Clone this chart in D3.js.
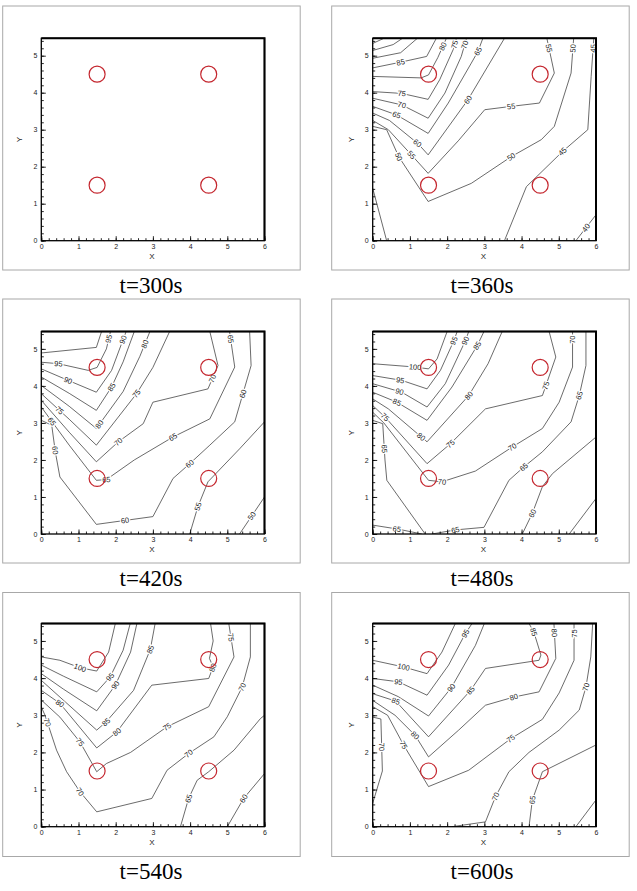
<!DOCTYPE html>
<html><head><meta charset="utf-8">
<script src="https://cdn.jsdelivr.net/npm/d3@7"></script>
<style>
body{margin:0;background:#fff}svg{display:block}
.cap{font-family:"Liberation Serif","DejaVu Serif","Times New Roman",Times,serif;font-size:23px;fill:#000}
</style>
</head><body><svg id="c" width="637" height="891"></svg>
<script>
// ---------- data ----------
const times = ["t=300s","t=360s","t=420s","t=480s","t=540s","t=600s"];
const heaters = [[1.5,1.5],[1.5,4.5],[4.5,1.5],[4.5,4.5]];
const xTicks = [0,1,2,3,4,5,6];
const yTicks = [0,1,2,3,4,5];
const xDomain = [0,6];
const yDomain = [0,5.47];

const contours300 = [];
const contours360 = [
 {v:100, pts:[[0,5.33],[0.3,5.47]], lab:[]},
 {v:95, pts:[[0,5.14],[0.55,5.3],[0.8,5.47]], lab:[]},
 {v:90, pts:[[0,4.93],[0.75,5.08],[1.2,5.47]], lab:[]},
 {v:85, pts:[[0,4.67],[0.73,4.82],[1.45,4.98],[1.71,5.47]], lab:[[0.75,4.82]]},
 {v:80, pts:[[0,4.44],[1.3,4.4],[1.5,4.48],[1.75,4.95],[1.98,5.47]], lab:[[1.88,5.25]]},
 {v:75, pts:[[0,4.03],[0.78,3.98],[1.49,3.82],[1.8,4.35],[2.16,5.16],[2.25,5.47]], lab:[[0.78,3.98],[2.2,5.3]]},
 {v:70, pts:[[0,3.85],[0.78,3.67],[1.49,3.31],[1.94,3.99],[2.38,4.98],[2.52,5.47]], lab:[[0.78,3.67],[2.46,5.3]]},
 {v:65, pts:[[0,3.63],[0.64,3.4],[1.49,2.9],[2.03,3.72],[2.65,4.8],[2.83,5.12],[2.96,5.47]], lab:[[0.64,3.4],[2.83,5.12]]},
 {v:60, pts:[[0,3.45],[0.45,3.25],[1.22,2.62],[1.49,2.32],[2.56,3.81],[3.54,5.47]], lab:[[1.2,2.64],[2.56,3.81]]},
 {v:55, pts:[[0,3.25],[0.42,3.0],[1.04,2.32],[1.49,1.82],[2.3,2.7],[3.01,3.54],[3.72,3.63],[4.48,3.72],[4.88,4.53],[4.68,5.47]], lab:[[1.04,2.32],[3.72,3.63],[4.74,5.2]]},
 {v:50, pts:[[0,3.09],[0.375,3.0],[0.7,2.27],[1.49,1.06],[2.65,1.55],[3.72,2.27],[4.53,2.73],[4.88,3.09],[5.33,4.53],[5.4,5.47]], lab:[[0.7,2.27],[3.72,2.27],[5.36,5.2]]},
 {v:45, pts:[[3.54,0],[4.13,1.46],[5.1,2.41],[5.78,3.0],[5.87,4.44],[5.94,5.47]], lab:[[5.1,2.41],[5.9,5.2]]},
 {v:40, pts:[[5.46,0],[6,0.7]], lab:[[5.73,0.35]]},
 {v:45, pts:[[0,1.42],[0.375,0]], lab:[]}
];
const contours420 = [
 {v:100, pts:[[0,4.89],[1.48,5.04],[1.62,5.47]], lab:[]},
 {v:95, pts:[[0,4.64],[0.46,4.6],[1.26,4.42],[1.5,4.5],[1.75,5.0],[1.86,5.47]], lab:[[0.46,4.6],[1.82,5.27]]},
 {v:90, pts:[[0,4.46],[0.72,4.15],[1.48,3.83],[1.89,4.42],[2.28,5.47]], lab:[[0.72,4.15],[2.2,5.25]]},
 {v:85, pts:[[0,4.24],[0.75,3.8],[1.48,3.34],[1.89,3.97],[2.2,4.65],[2.5,5.47]], lab:[[1.89,3.97]]},
 {v:80, pts:[[0,4.01],[0.75,3.45],[1.48,2.85],[2.2,3.85],[2.65,4.8],[2.92,5.47]], lab:[[1.58,2.95],[2.78,5.13]]},
 {v:75, pts:[[0,3.79],[0.75,3.1],[1.48,2.4],[2.56,3.79],[3.0,4.5],[3.45,5.47]], lab:[[0.5,3.35],[2.56,3.79]]},
 {v:70, pts:[[0,3.61],[0.75,2.75],[1.48,1.95],[2.07,2.49],[2.74,2.98],[3.0,3.56],[4.48,3.92],[4.6,4.2],[4.75,4.55],[4.53,5.47]], lab:[[2.07,2.49],[4.6,4.2]]},
 {v:65, pts:[[0,3.43],[0.75,2.4],[1.48,1.45],[1.75,1.47],[2.5,2.0],[3.54,2.62],[4.53,3.11],[5.2,4.51],[5.06,5.47]], lab:[[0.3,3.05],[1.75,1.47],[3.54,2.62],[5.12,5.27]]},
 {v:60, pts:[[0,3.07],[0.28,2.94],[0.38,2.2],[0.5,1.54],[1.48,0.26],[3.0,0.47],[3.54,1.5],[3.99,1.9],[4.53,2.4],[5.2,3.03],[5.42,3.79],[5.64,4.55],[5.6,5.47]], lab:[[0.38,2.26],[2.25,0.35],[3.99,1.9],[5.42,3.79]]},
 {v:55, pts:[[3.99,0],[4.21,0.74],[4.48,1.41],[5.33,2.3],[6,3.03]], lab:[[4.21,0.74]]},
 {v:50, pts:[[5.33,0],[6,1.0]], lab:[[5.64,0.5]]}
];
const contours480 = [
 {v:100, pts:[[0,4.6],[1.14,4.51],[1.5,4.46],[1.73,4.73],[2.0,5.47]], lab:[[1.14,4.51]]},
 {v:95, pts:[[0,4.28],[0.78,4.15],[1.46,3.92],[1.82,4.42],[2.18,5.22],[2.27,5.47]], lab:[[0.74,4.15],[2.18,5.22]]},
 {v:90, pts:[[0,4.06],[0.78,3.83],[1.46,3.43],[1.95,4.06],[2.49,5.22],[2.58,5.47]], lab:[[0.72,3.85],[2.49,5.22]]},
 {v:85, pts:[[0,3.83],[0.65,3.56],[1.46,3.07],[2.13,3.97],[2.81,5.09],[2.99,5.47]], lab:[[0.65,3.56],[2.81,5.09]]},
 {v:80, pts:[[0,3.65],[0.42,3.38],[1.46,2.49],[2.58,3.74],[3.1,4.6],[3.48,5.47]], lab:[[1.32,2.65],[2.58,3.74]]},
 {v:75, pts:[[0,3.47],[0.33,3.16],[1.46,1.9],[2.09,2.44],[3.03,3.38],[4.56,3.74],[4.92,4.78],[4.74,5.47]], lab:[[0.33,3.16],[2.09,2.44],[4.65,4.01]]},
 {v:70, pts:[[0,3.29],[0.3,3.0],[1.5,1.45],[1.86,1.41],[2.76,1.7],[3.75,2.35],[4.56,2.85],[5.01,3.56],[5.37,4.51],[5.37,5.47]], lab:[[1.86,1.41],[3.75,2.35],[5.37,5.25]]},
 {v:65, pts:[[0,3.07],[0.27,2.98],[0.33,2.0],[0.38,1.45],[1.41,0]], lab:[[0.31,2.3]]},
 {v:65, pts:[[0,0.24],[0.69,0.13],[1.32,0]], lab:[[0.65,0.14]]},
 {v:65, pts:[[1.59,0],[2.22,0.11],[2.99,0.18],[3.66,1.45],[4.06,1.81],[4.56,2.22],[5.33,3.03],[5.55,3.74],[5.73,4.55],[5.73,5.47]], lab:[[2.22,0.11],[4.06,1.81],[5.55,3.74]]},
 {v:60, pts:[[4.02,0],[4.29,0.56],[4.56,1.28],[4.83,1.63],[6,2.62]], lab:[[4.29,0.56]]},
 {v:55, pts:[[5.28,0],[6,0.96]], lab:[]}
];
const contours540 = [
 {v:100, pts:[[0,4.57],[0.5,4.48],[1.04,4.28],[1.49,4.19],[1.81,4.7],[1.99,5.47]], lab:[[1.04,4.28]]},
 {v:95, pts:[[0,4.35],[0.6,4.05],[1.49,3.63],[1.85,4.03],[2.2,4.75],[2.39,5.47]], lab:[[1.85,4.03]]},
 {v:90, pts:[[0,4.12],[0.6,3.7],[1.49,3.12],[1.99,3.81],[2.4,4.7],[2.57,5.47]], lab:[[1.99,3.81]]},
 {v:85, pts:[[0,3.94],[0.6,3.4],[1.49,2.6],[1.74,2.82],[2.48,3.67],[2.93,4.77],[3.06,5.47]], lab:[[1.74,2.82],[2.93,4.77]]},
 {v:80, pts:[[0,3.67],[0.5,3.32],[1.49,2.12],[2.03,2.55],[2.97,3.81],[4.5,3.99],[4.62,4.3],[4.52,4.53],[4.62,5.0],[4.55,5.47]], lab:[[0.5,3.32],[2.03,2.55],[4.62,4.28]]},
 {v:75, pts:[[0,3.41],[0.5,2.95],[1.04,2.28],[1.49,1.48],[1.75,1.7],[2.4,2.0],[3.38,2.69],[4.5,3.23],[5.18,4.57],[5.04,5.47]], lab:[[1.04,2.28],[3.38,2.69],[5.1,5.1]]},
 {v:70, pts:[[0,3.22],[0.1,3.0],[0.41,2.06],[0.68,1.48],[1.04,0.94],[1.49,0.4],[2.97,0.76],[3.38,1.52],[3.96,1.97],[4.64,2.42],[5.0,2.96],[5.4,3.76],[5.62,4.57],[5.62,5.47]], lab:[[0.15,2.8],[1.04,0.94],[3.96,1.97],[5.4,3.76]]},
 {v:65, pts:[[3.74,0],[3.96,0.76],[4.19,1.25],[4.5,1.48],[5.18,2.06],[5.89,2.91],[6,3.0]], lab:[[3.96,0.76]]},
 {v:60, pts:[[5.0,0],[5.44,0.76],[6,1.43]], lab:[[5.44,0.76]]}
];
const contours600 = [
 {v:100, pts:[[0,4.48],[0.83,4.3],[1.46,4.12],[1.86,4.7],[2.22,5.47]], lab:[[0.83,4.3]]},
 {v:95, pts:[[0,3.99],[0.69,3.9],[1.46,3.54],[2.04,4.35],[2.49,5.2],[2.67,5.47]], lab:[[0.69,3.9],[2.49,5.2]]},
 {v:90, pts:[[0,3.81],[0.69,3.5],[1.5,2.98],[2.11,3.74],[2.76,4.88],[3.0,5.47]], lab:[[2.11,3.74]]},
 {v:85, pts:[[0,3.58],[0.62,3.38],[1.5,2.42],[2.63,3.67],[3.03,4.26],[4.47,4.48],[4.52,4.62],[4.33,5.24],[4.2,5.47]], lab:[[0.62,3.38],[2.63,3.67],[4.33,5.24]]},
 {v:80, pts:[[0,3.4],[0.6,3.0],[1.14,2.46],[1.5,1.88],[2.31,2.6],[3.03,3.27],[3.79,3.49],[4.47,3.63],[4.92,4.53],[4.87,5.47]], lab:[[1.14,2.46],[3.79,3.49],[4.88,5.22]]},
 {v:75, pts:[[0,3.23],[0.4,3.0],[0.83,2.2],[1.5,1.08],[2.58,1.52],[3.71,2.37],[4.56,2.89],[5.01,3.6],[5.41,4.48],[5.41,5.47]], lab:[[0.83,2.2],[3.71,2.37],[5.41,5.2]]},
 {v:70, pts:[[0,2.95],[0.22,2.9],[0.26,1.5],[0,0.63]], lab:[[0.24,2.15]]},
 {v:70, pts:[[2.13,0],[3.03,0.13],[3.3,0.81],[3.66,1.48],[4.2,2.0],[5.01,2.6],[5.55,3.14],[5.73,3.76],[5.86,4.57],[5.91,5.47]], lab:[[3.3,0.81],[5.73,3.76]]},
 {v:65, pts:[[4.2,0],[4.29,0.72],[4.56,1.48],[6,2.2]], lab:[[4.29,0.72]]},
 {v:60, pts:[[5.46,0],[6,0.72]], lab:[]}
];
const panels = [contours300, contours360, contours420, contours480, contours540, contours600];

// ---------- layout ----------
const colFrameX = [2.7, 331.7], frameW = 297.5;
const rowFrameY = [6, 299, 592.5], frameH = 264;
const colPlotX = [[41.3, 264.5], [372.7, 596]];
const rowPlotY = [[240.7, 38.3], [534, 331.5], [826.7, 623.5]];
const captionX = [151, 482];
const captionY = [293.3, 586.3, 879];
const sans = "'Liberation Sans', Arial, Helvetica, sans-serif";

const svg = d3.select("#c");

function snapToLine(pts, p) {
  let best = null;
  for (let i = 0; i < pts.length - 1; i++) {
    const a = pts[i], b = pts[i+1];
    const dx = b[0]-a[0], dy = b[1]-a[1];
    const L2 = dx*dx + dy*dy || 1e-9;
    let t = ((p[0]-a[0])*dx + (p[1]-a[1])*dy) / L2;
    t = Math.max(0, Math.min(1, t));
    const q = [a[0]+t*dx, a[1]+t*dy];
    const d = Math.hypot(q[0]-p[0], q[1]-p[1]);
    if (!best || d < best.d) {
      let ang = Math.atan2(dy, dx) * 180 / Math.PI;
      if (ang > 90) ang -= 180;
      if (ang < -90) ang += 180;
      best = {d, q, ang};
    }
  }
  return best;
}

panels.forEach((cont, i) => {
  const r = Math.floor(i / 2), c = i % 2;
  const g = svg.append("g");

  // outer frame
  g.append("rect")
    .attr("x", colFrameX[c]).attr("y", rowFrameY[r])
    .attr("width", frameW).attr("height", frameH)
    .attr("fill", "none").attr("stroke", "#a8a8a8").attr("stroke-width", 1);

  const x = d3.scaleLinear().domain(xDomain).range(colPlotX[c]);
  const y = d3.scaleLinear().domain(yDomain).range(rowPlotY[r]);

  const clipId = "clip" + i;
  g.append("clipPath").attr("id", clipId).append("rect")
    .attr("x", x(0)).attr("y", y(yDomain[1]))
    .attr("width", x(6) - x(0)).attr("height", y(0) - y(yDomain[1]));

  const plot = g.append("g").attr("clip-path", `url(#${clipId})`);
  const line = d3.line().x(d => x(d[0])).y(d => y(d[1]));

  plot.selectAll("path.ct").data(cont).join("path")
    .attr("class", "ct")
    .attr("d", d => line(d.pts))
    .attr("fill", "none").attr("stroke", "#3a3a3a").attr("stroke-width", 0.75);

  // contour labels
  const labs = [];
  cont.forEach(ct => ct.lab.forEach(p => {
    const pxPts = ct.pts.map(q => [x(q[0]), y(q[1])]);
    const s = snapToLine(pxPts, [x(p[0]), y(p[1])]);
    labs.push({v: ct.v, px: s.q[0], py: s.q[1], ang: s.ang});
  }));
  g.selectAll("text.cl").data(labs).join("text")
    .attr("class", "cl")
    .attr("transform", d => `translate(${d.px},${d.py}) rotate(${d.ang})`)
    .attr("text-anchor", "middle").attr("dy", "0.35em")
    .attr("font-family", sans).attr("font-size", 7.5)
    .attr("fill", "#222")
    .attr("stroke", "#fff").attr("stroke-width", 2.6).attr("paint-order", "stroke")
    .text(d => d.v);

  // heaters
  const rad = x(0.215) - x(0);
  g.selectAll("circle.h").data(heaters).join("circle")
    .attr("class", "h")
    .attr("cx", d => x(d[0])).attr("cy", d => y(d[1])).attr("r", rad)
    .attr("fill", "none").attr("stroke", "#c4262e").attr("stroke-width", 1.2);

  // axes: major & minor ticks pointing inwards
  const minorX = d3.range(0, 6.001, 0.2);
  const minorY = d3.range(0, 5.47, 0.2);
  const gx = g.append("g").attr("transform", `translate(0,${y(0)})`)
    .call(d3.axisBottom(x).tickValues(xTicks).tickSize(-4.5).tickPadding(3).tickFormat(d3.format("d")));
  const gxm = g.append("g").attr("transform", `translate(0,${y(0)})`)
    .call(d3.axisBottom(x).tickValues(minorX).tickSize(-2.5).tickFormat(""));
  const gy = g.append("g").attr("transform", `translate(${x(0)},0)`)
    .call(d3.axisLeft(y).tickValues(yTicks).tickSize(-4.5).tickPadding(4).tickFormat(d3.format("d")));
  const gym = g.append("g").attr("transform", `translate(${x(0)},0)`)
    .call(d3.axisLeft(y).tickValues(minorY).tickSize(-2.5).tickFormat(""));
  [gx, gxm, gy, gym].forEach(a => {
    a.select(".domain").remove();
    a.selectAll("line").attr("stroke", "#111").attr("stroke-width", 0.9);
    a.selectAll("text").attr("font-family", sans).attr("font-size", 7).attr("fill", "#222");
  });

  // plot frame
  g.append("rect")
    .attr("x", x(0)).attr("y", y(yDomain[1]))
    .attr("width", x(6) - x(0)).attr("height", y(0) - y(yDomain[1]))
    .attr("fill", "none").attr("stroke", "#000").attr("stroke-width", 1.3);
  g.append("path")
    .attr("d", `M${x(0)},${y(yDomain[1])}H${x(6)}V${y(0)}`)
    .attr("fill", "none").attr("stroke", "#000").attr("stroke-width", 2);

  // axis titles
  g.append("text").attr("x", (x(0) + x(6)) / 2 - 1).attr("y", y(0) + 18)
    .attr("text-anchor", "middle").attr("font-family", sans).attr("font-size", 8)
    .attr("fill", "#222").text("X");
  g.append("text")
    .attr("transform", `translate(${x(0) - 19},${(y(0) + y(yDomain[1])) / 2}) rotate(-90)`)
    .attr("text-anchor", "middle").attr("font-family", sans).attr("font-size", 8)
    .attr("fill", "#222").text("Y");

  // caption
  g.append("text").attr("class", "cap")
    .attr("x", captionX[c]).attr("y", captionY[r])
    .attr("text-anchor", "middle")
    .text(times[i]);
});
</script>
</body></html>
